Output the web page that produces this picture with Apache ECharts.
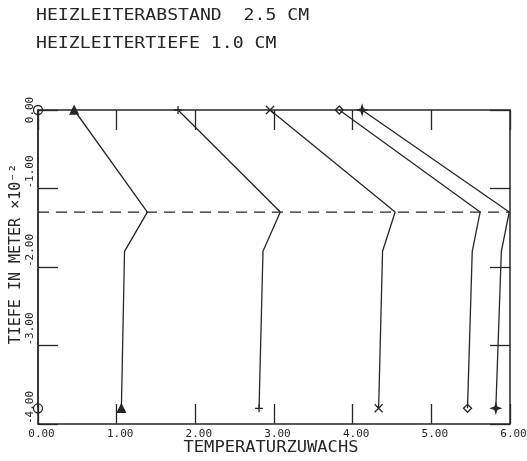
<!DOCTYPE html>
<html>
<head>
<meta charset="utf-8">
<script src="https://cdn.jsdelivr.net/npm/echarts@6/dist/echarts.min.js"></script>
<style>
html,body{margin:0;padding:0;background:#fff;}
#chart{width:527px;height:461px;}
</style>
</head>
<body>
<div id="chart"></div>
<script>
// ---- data ----
const titleLines = ['HEIZLEITERABSTAND  2.5 CM', 'HEIZLEITERTIEFE 1.0 CM'];
const xAxisName = 'TEMPERATURZUWACHS';
const yAxisName = 'TIEFE IN METER \u00d710\u207b\u00b2';
const depths = [0, -1.3, -1.8, -3.8];          // depth (x10^-2 m) of each profile point
const dashDepth = -1.3;                          // dashed reference line
const profileCircle   = [0.00, 0.00, 0.00, 0.00];
const profileTriangle = [0.46, 1.39, 1.10, 1.06];
const profilePlus     = [1.78, 3.08, 2.86, 2.81];
const profileCross    = [2.95, 4.54, 4.38, 4.33];
const profileDiamond  = [3.83, 5.62, 5.52, 5.46];
const profileStar     = [4.12, 5.99, 5.89, 5.82];
const xMin = 0, xMax = 6, xStep = 1;
const yMin = -4, yMax = 0, yStep = 1;

const INK = '#262626';
const MONO = '"DejaVu Sans Mono", monospace';

function pts(xs) { return xs.map((x, i) => [x, depths[i]]); }

const symbols = {
  circle: 'circle',
  triangle: 'triangle',
  plus: 'path://M5,0L5,10M0,5L10,5',
  cross: 'path://M0,0L10,10M10,0L0,10',
  diamond: 'diamond',
  star: 'path://M5,0L6.2,3.8L10,5L6.2,6.2L5,10L3.8,6.2L0,5L3.8,3.8Z'
};

function profile(name, xs, sym, fill, size) {
  const last = xs.length - 1;
  return {
    name: name, type: 'line', data: pts(xs),
    symbol: symbols[sym],
    symbolSize: (v, p) => (p.dataIndex === 0 || p.dataIndex === last) ? size : 0,
    showAllSymbol: true,
    lineStyle: { color: INK, width: 1.3 },
    itemStyle: { color: fill ? INK : 'rgba(0,0,0,0)', borderColor: INK, borderWidth: 1.3 },
    z: 3
  };
}

const tickStyle = { color: INK, width: 1.3 };
const lineAx = { show: true, onZero: false, lineStyle: { color: INK, width: 1.5 } };

const chart = echarts.init(document.getElementById('chart'));
chart.setOption({
  animation: false,
  backgroundColor: '#fff',
  grid: { left: 38, right: 17, top: 110, bottom: 37, containLabel: false, outerBoundsMode: 'none' },
  xAxis: [
    { type: 'value', position: 'bottom', min: xMin, max: xMax, interval: xStep,
      axisLine: lineAx, splitLine: { show: false },
      axisTick: { inside: true, length: 20, lineStyle: tickStyle },
      axisLabel: { formatter: v => v.toFixed(2), fontFamily: MONO, fontSize: 11, color: INK,
                   margin: 5, padding: [0, 0, 0, 7], hideOverlap: false } },
    { type: 'value', position: 'top', min: xMin, max: xMax, interval: xStep,
      axisLine: lineAx, splitLine: { show: false },
      axisTick: { inside: true, length: 20, lineStyle: tickStyle },
      axisLabel: { show: false } }
  ],
  yAxis: [
    { type: 'value', position: 'left', min: yMin, max: yMax, interval: yStep,
      axisLine: lineAx, splitLine: { show: false },
      axisTick: { inside: true, length: 20, lineStyle: tickStyle },
      axisLabel: { rotate: 90, margin: 2, color: INK,
        formatter: v => v === 0 ? '{z|0.00}' : '{n|' + v.toFixed(2) + '}',
        rich: {
          z: { fontFamily: MONO, fontSize: 11, color: INK },
          n: { fontFamily: MONO, fontSize: 11, color: INK, padding: [0, 0, 0, 33] }
        } } },
    { type: 'value', position: 'right', min: yMin, max: yMax, interval: yStep,
      axisLine: lineAx, splitLine: { show: false },
      axisTick: { inside: true, length: 20, lineStyle: tickStyle },
      axisLabel: { show: false } }
  ],
  series: [
    { type: 'line', data: [[xMin, dashDepth], [xMax, dashDepth]], symbol: 'none',
      lineStyle: { color: INK, width: 1.2, type: [11, 7] }, z: 2 },
    profile('circle', profileCircle, 'circle', false, 9),
    profile('triangle', profileTriangle, 'triangle', true, 8),
    profile('plus', profilePlus, 'plus', false, 8),
    profile('cross', profileCross, 'cross', false, 8),
    profile('diamond', profileDiamond, 'diamond', false, 8),
    profile('star', profileStar, 'star', true, 9)
  ],
  graphic: [
    { type: 'text', x: 36, y: 16, scaleX: 1.21,
      style: { text: titleLines[0], font: '15px ' + MONO, fill: INK, textAlign: 'left', textVerticalAlign: 'middle' } },
    { type: 'text', x: 36, y: 44, scaleX: 1.21,
      style: { text: titleLines[1], font: '15px ' + MONO, fill: INK, textAlign: 'left', textVerticalAlign: 'middle' } },
    { type: 'text', x: 271, y: 448, scaleX: 1.14,
      style: { text: xAxisName, font: '15px ' + MONO, fill: INK, textAlign: 'center', textVerticalAlign: 'middle' } },
    { type: 'text', x: 16, y: 254, rotation: Math.PI / 2,
      style: { text: yAxisName, font: '15px ' + MONO, fill: INK, textAlign: 'center', textVerticalAlign: 'middle' } }
  ]
});
</script>
</body>
</html>
